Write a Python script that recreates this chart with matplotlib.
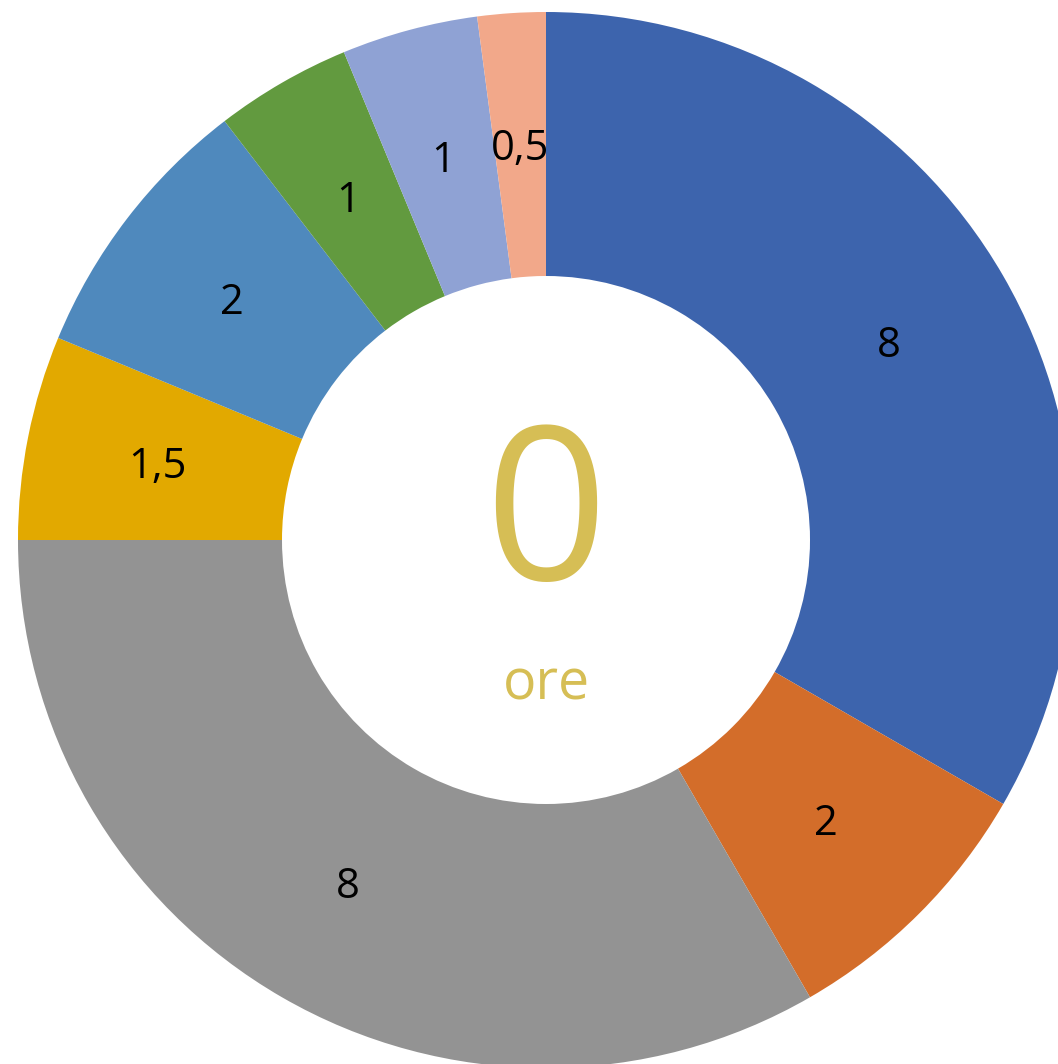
import matplotlib.pyplot as plt

# donut values, clockwise from 12 o'clock
values = [8, 2, 8, 1.5, 2, 1, 1, 0.5]
colors = ["#3D64AD", "#D36D2A", "#939393", "#E2A900",
          "#4F89BD", "#629A3F", "#8FA2D4", "#F2A88A"]
center_value = "0"
center_unit = "ore"

total = sum(values)


def fmt(pct):
    v = round(pct * total / 100.0, 1)
    s = ("%g" % v).replace(".", ",")
    return s


plt.rcParams['font.family'] = ['Open Sans', 'DejaVu Sans']

W, H = 1058, 1064
fig = plt.figure(figsize=(W / 100, H / 100), dpi=100)
ax = fig.add_axes([0, 0, 1, 1])

cx, cy, R = 546, H - 540, 528
wedges, texts, autotexts = ax.pie(values, colors=colors, startangle=90, counterclock=False,
                                  radius=R, center=(cx, cy), frame=True,
                                  autopct=fmt, pctdistance=0.75,
                                  wedgeprops=dict(width=R * 0.5, edgecolor='none'),
                                  textprops=dict(fontsize=30, color='black'))
# nudge the value labels down a little, like the original
for t in autotexts:
    x, y = t.get_position()
    t.set_position((x, y - 4))

ax.set_xlim(0, W)
ax.set_ylim(0, H)
ax.set_aspect('equal')
ax.axis('off')

ax.text(cx, cy + 16, center_value, ha='center', va='center',
        fontsize=155, color='#D6BE55')
ax.text(cx, cy - 145, center_unit, ha='center', va='center',
        fontsize=40, color='#D6BE55')

fig.savefig('out.png', dpi=100)
